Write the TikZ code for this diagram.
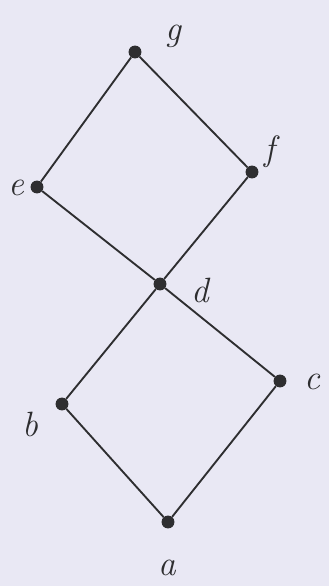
\documentclass[tikz,border=0pt]{standalone}
\usepackage{tikz}
\usetikzlibrary{positioning, calc}
\definecolor{Paper}{HTML}{E9E8F4}
\definecolor{Ink}{HTML}{2E2E30}
\tikzset{
    dot/.style={circle, fill=Ink, inner sep=0pt, minimum size=11pt},
    edge/.style={Ink, line width=1.6pt},
    lbl/.style={text=Ink, font=\fontsize{30}{34}\selectfont\itshape, inner sep=0pt},
}
\begin{document}
\begin{tikzpicture}[x=0.03cm, y=-0.03cm]
        % Paper
        \fill[Paper] (0,0) rectangle (329,586);
        \useasboundingbox (0,0) rectangle (329,586);

        % Elements
        \node[dot] (g) at (135, 52) {};
        \node[dot] (f) at (252, 172) {};
        \node[dot] (e) at (37, 187) {};
        \node[dot] (d) at (160, 284) {};
        \node[dot] (c) at (280, 381) {};
        \node[dot] (b) at (62, 404) {};
        \node[dot] (a) at (168, 522) {};

        % Covering relations
        \draw[edge] (g) -- (e);
        \draw[edge] (g) -- (f);
        \draw[edge] (e) -- (d);
        \draw[edge] (f) -- (d);
        \draw[edge] (d) -- (b);
        \draw[edge] (d) -- (c);
        \draw[edge] (b) -- (a);
        \draw[edge] (c) -- (a);

        % Labels
        \node[lbl] (lg) at (173, 36) {g};
        \node[lbl] (lf) at (270, 152) {f};
        \node[lbl] (le) at (16, 188) {e};
        \node[lbl] (ld) at (200, 290) {d};
        \node[lbl] (lc) at (312, 382) {c};
        \node[lbl] (lb) at (30, 424) {b};
        \node[lbl] (la) at (167, 568) {a};
    \end{tikzpicture}
\end{document}
